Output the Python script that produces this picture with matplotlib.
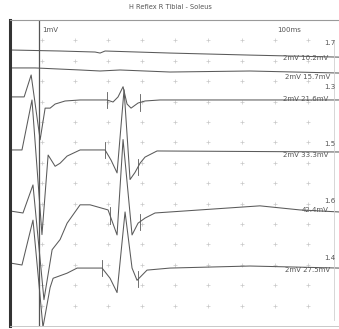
import numpy as np
import matplotlib
matplotlib.use("Agg")
import matplotlib.pyplot as plt

# time in ms, amplitude in mV (2 mV / div), baseline in divisions from bottom
trace1_t = [0.4, 15.5, 26.0, 27.5, 29.0, 48.5, 72.5, 99.3]
trace1_mv = [0.3, 0.2, 0.1, 0.0, 0.2, 0.0, -0.2, -0.4]

trace2_t = [0.4, 8.0, 21.5, 27.5, 33.5, 48.5, 72.5, 99.3]
trace2_mv = [0.2, 0.2, 0.0, -0.1, 0.0, -0.2, -0.1, -0.3]

trace3_t = [0.4, 4.7, 6.8, 9.5, 11.0, 12.5, 14.0, 17.0, 21.5, 29.6, 31.4, 32.9,
            34.4, 35.6, 36.8, 38.9, 41.0, 45.5, 99.3]
trace3_mv = [0.2, 0.2, 2.35, -4.0, -0.9, -0.9, -0.5, -0.2, -0.1, -0.1, -0.3, 0.2,
             1.2, -0.5, -0.9, -0.4, -0.2, -0.1, -0.1]

trace4_t = [0.4, 4.05, 7.05, 10.05, 11.9, 14.0, 15.5, 17.6, 21.5, 29.0, 30.8, 32.6,
            34.7, 36.5, 38.0, 39.5, 41.0, 44.6, 99.3]
trace4_mv = [0.0, 0.0, 4.9, -8.3, -0.5, -1.6, -1.3, -0.6, 0.0, 0.0, -1.0, -2.25,
             5.9, -2.9, -2.2, -1.3, -0.7, -0.1, -0.2]

trace5_t = [0.4, 4.35, 7.35, 10.65, 13.1, 15.5, 17.6, 21.5, 24.5, 29.9, 32.6, 34.4,
            37.1, 38.9, 41.0, 44.0, 57.5, 75.5, 87.5, 99.3]
trace5_mv = [-0.1, -0.3, 2.45, -8.8, -3.9, -2.9, -1.3, 0.5, 0.5, 0.0, -2.45, 6.9,
             -2.45, -1.3, -0.8, -0.3, 0.0, 0.4, 0.0, -0.2]

trace6_t = [0.4, 4.05, 7.35, 10.35, 12.5, 13.4, 17.6, 20.6, 28.1, 30.5, 32.6, 35.0,
            37.1, 38.6, 41.6, 48.5, 72.5, 99.3]
trace6_mv = [0.4, 0.2, 4.6, -5.9, -2.0, -1.1, -0.6, -0.1, -0.1, -1.1, -2.5, 5.4,
             -0.1, -1.3, -0.3, -0.1, 0.1, -0.1]

baselines = [13.38, 12.55, 11.13, 8.63, 5.69, 2.89]
markers = [[], [], [29.6, 39.5], [29.0, 38.9], [30.5, 39.5], [28.1, 38.9]]
stim_labels = ["2mV 10.2mV", "2mV 15.7mV", "2mV 21.6mV", "2mV 33.3mV", "42.4mV", "2mV 27.5mV"]
latency_labels = ["1.7", "", "1.3", "1.5", "1.6", "1.4"]

traces = [(trace1_t, trace1_mv), (trace2_t, trace2_mv), (trace3_t, trace3_mv),
          (trace4_t, trace4_mv), (trace5_t, trace5_mv), (trace6_t, trace6_mv)]

W, H = 339, 329
fig = plt.figure(figsize=(W / 100, H / 100), dpi=100)
fig.patch.set_facecolor("white")
ax = fig.add_axes([10 / W, 3 / H, 329 / W, 306 / H])
ax.set_xlim(0.45, 99.25)
ax.set_ylim(0, 15)

# grid of little crosses
gx, gy = np.meshgrid(np.arange(10, 100, 10), np.arange(1, 15, 1))
ax.plot(gx.ravel(), gy.ravel(), ls="none", marker="+", ms=3, mew=0.5, color="#c8c8c8")

col = "#5a5a5a"
for (t, mv), b, mk in zip(traces, baselines, markers):
    y = b + np.array(mv) / 2.0
    ax.plot(t, y, color=col, lw=0.75, clip_on=True)
    for m in mk:
        ym = np.interp(m, t, y)
        ax.plot([m, m], [ym - 0.4, ym + 0.4], color=col, lw=0.6)

# cursor line and right edge
ax.axvline(9.2, color="#555555", lw=0.9)
ax.plot([97.7, 97.7], [0.3, 14.0], color="#d0d0d0", lw=0.6)

ax.set_xticks([])
ax.set_yticks([])
ax.spines["left"].set_linewidth(2.2)
ax.spines["left"].set_color("#333333")
ax.spines["top"].set_color("#9a9a9a")
ax.spines["top"].set_linewidth(0.8)
ax.spines["bottom"].set_color("#c0c0c0")
ax.spines["bottom"].set_linewidth(0.6)
ax.spines["right"].set_visible(False)

tc = "#555555"
fig.text(170 / W, 1 - 7 / H, "H Reflex R Tibial - Soleus", ha="center", va="center",
         fontsize=4.8, color=tc)
fig.text(42 / W, 1 - 30 / H, "1mV", ha="left", va="center", fontsize=5, color=tc)
fig.text(277 / W, 1 - 30 / H, "100ms", ha="left", va="center", fontsize=5, color=tc)

stim_pos = [(283, 58), (285, 77), (283, 99), (283, 155), (302, 210), (285, 270)]
lat_pos = [(335, 43), (0, 0), (335, 87), (335, 144), (335, 201), (335, 258)]
for s, (px, py) in zip(stim_labels, stim_pos):
    fig.text(px / W, 1 - py / H, s, ha="left", va="center", fontsize=5, color=tc)
for s, (px, py) in zip(latency_labels, lat_pos):
    if s:
        fig.text(px / W, 1 - py / H, s, ha="right", va="center", fontsize=5, color=tc)

fig.savefig("out.png", dpi=100)
